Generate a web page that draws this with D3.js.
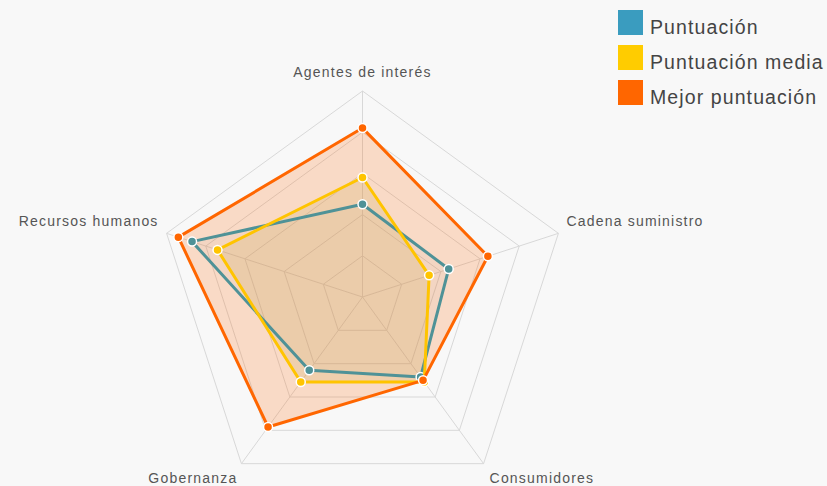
<!DOCTYPE html>
<html><head><meta charset="utf-8">
<script src="https://cdn.jsdelivr.net/npm/d3@7"></script>
<style>
html,body{margin:0;padding:0;background:#f8f8f8;}
svg{display:block;font-family:"Liberation Sans",Arial,sans-serif;}
</style></head>
<body>
<svg id="chart" width="827" height="486"></svg>
<script>
const axes = ["Agentes de interés","Cadena suministro","Consumidores","Gobernanza","Recursos humanos"];
const seriesNames = ["Puntuación","Puntuación media","Mejor puntuación"];
const puntuacion = [45, 44, 48, 44, 87];
const media = [58, 34, 51, 51, 74];
const mejor = [82, 64, 50, 78, 94];
const gridLevels = [20, 40, 60, 80, 100];

const legendColors = ["#3a9cbf", "#ffcc00", "#ff6600"];
const lineColors = ["#4f9297", "#ffc400", "#ff6600"];
const fillColors = ["rgba(90,140,160,0.05)", "rgba(195,185,110,0.22)", "rgba(255,102,0,0.2)"];

const svg = d3.select("#chart");
const cx = 362.5, cy = 297, R = 206;
const r = d3.scaleLinear().domain([0, 100]).range([0, R]);
const angle = d3.scalePoint().domain(axes).range([0, 2*Math.PI*(axes.length-1)/axes.length]);
const pt = (a, v) => { const t = angle(a) - Math.PI/2; return [cx + r(v)*Math.cos(t), cy + r(v)*Math.sin(t)]; };

const g = svg.append("g");
// grid
gridLevels.forEach(l => {
  g.append("path").attr("d", d3.line()(axes.map(a => pt(a, l))) + "Z")
    .attr("fill", "none").attr("stroke", "#d8d8d8").attr("stroke-width", 1);
});
axes.forEach(a => {
  const [x, y] = pt(a, 100);
  g.append("line").attr("x1", cx).attr("y1", cy).attr("x2", x).attr("y2", y)
    .attr("stroke", "#d8d8d8").attr("stroke-width", 1);
});

// labels
const labelPos = [
  {dx: 0, dy: -14, anchor: "middle"},
  {dx: 8, dy: -7, anchor: "start"},
  {dx: 6, dy: 19, anchor: "start"},
  {dx: -4, dy: 19, anchor: "end"},
  {dx: -8, dy: -7, anchor: "end"}
];
axes.forEach((a, i) => {
  const [x, y] = pt(a, 100);
  g.append("text").attr("x", x + labelPos[i].dx).attr("y", y + labelPos[i].dy)
    .attr("text-anchor", labelPos[i].anchor).attr("font-size", 14).attr("fill", "#555")
    .attr("letter-spacing", "1.2px")
    .text(a);
});

const data = [puntuacion, media, mejor];
const line = d3.line();
data.forEach((vals, si) => {
  g.append("path").attr("d", line(axes.map((a, i) => pt(a, vals[i]))) + "Z")
    .attr("fill", fillColors[si]).attr("stroke", "none");
});
data.forEach((vals, si) => {
  g.append("path").attr("d", line(axes.map((a, i) => pt(a, vals[i]))) + "Z")
    .attr("fill", "none").attr("stroke", lineColors[si]).attr("stroke-width", 3)
    .attr("stroke-linejoin", "round");
  axes.forEach((a, i) => {
    const [x, y] = pt(a, vals[i]);
    g.append("circle").attr("cx", x).attr("cy", y).attr("r", 4.5)
      .attr("fill", lineColors[si]).attr("stroke", "#fff").attr("stroke-width", 1.5);
  });
});

// legend
const leg = svg.append("g");
seriesNames.forEach((n, i) => {
  leg.append("rect").attr("x", 618).attr("y", 10 + i*35).attr("width", 25).attr("height", 25)
    .attr("fill", legendColors[i]);
  leg.append("text").attr("x", 650).attr("y", 34 + i*35).attr("font-size", 19.5)
    .attr("letter-spacing", "1.1px")
    .attr("fill", "#444").text(n);
});
</script>
</body></html>
